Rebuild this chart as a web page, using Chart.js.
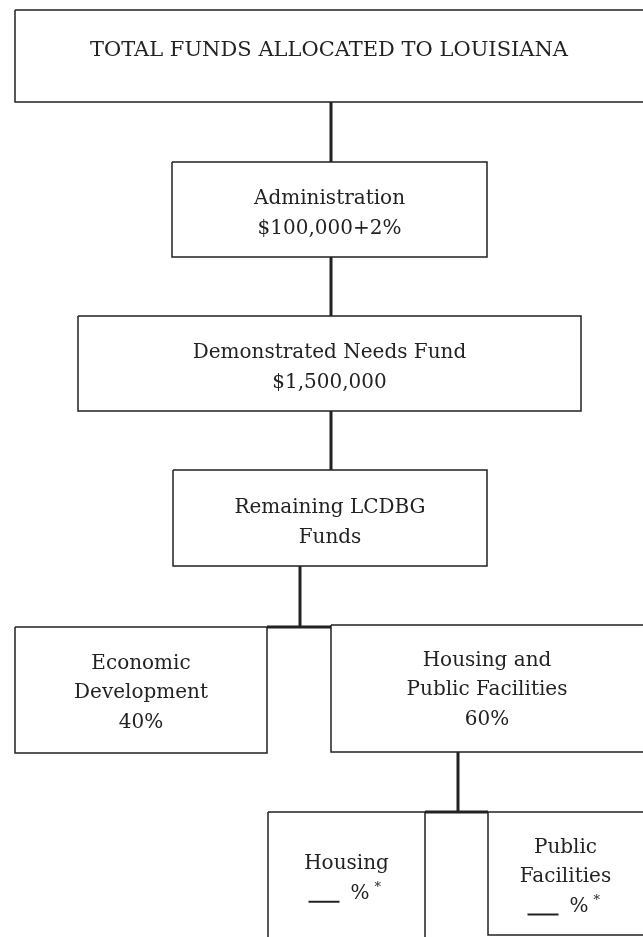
<!DOCTYPE html>
<html>
<head>
<meta charset="utf-8">
<script src="https://cdn.jsdelivr.net/npm/chart.js@4.4.1/dist/chart.umd.min.js"></script>
<style>
  html, body { margin: 0; padding: 0; background: #fff; }
</style>
</head>
<body>
<canvas id="flowChart" width="643" height="937"></canvas>
<script>
// shares of the remaining funds
const shareLabels = ["Economic Development", "Housing and Public Facilities"];
const shareValues = [40, 60];

const boxLabels = [
  ["TOTAL FUNDS ALLOCATED TO LOUISIANA"],
  ["Administration", "$100,000+2%"],
  ["Demonstrated Needs Fund", "$1,500,000"],
  ["Remaining LCDBG", "Funds"],
  ["Economic", "Development", shareValues[0] + "%"],
  ["Housing and", "Public Facilities", shareValues[1] + "%"],
  ["Housing", "___%*"],
  ["Public", "Facilities", "___%*"],
];

// layout of the boxes in page units: [left, right, top, bottom]
const boxFrames = [
  [15, 650, 10, 102],
  [172, 487, 162, 257],
  [78, 581, 316, 411],
  [173, 487, 470, 566],
  [15, 267, 627, 753],
  [331, 650, 625, 752],
  [268, 425, 812, 950],
  [488, 650, 812, 935],
];
const boxTextY = [51, 214, 368, 523, 693, 690, 879, 877];

// connecting lines, page units
const connectors = [
  [[331, 102], [331, 162]],
  [[331, 257], [331, 316]],
  [[331, 411], [331, 470]],
  [[300, 566], [300, 627]],
  [[267, 627], [331, 627]],
  [[458, 752], [458, 812]],
  [[425, 812], [488, 812]],
];

const ink = "#222";
const fontFamily = "'DejaVu Serif', serif";

const datasets = [];
boxFrames.forEach((f) => {
  datasets.push({
    data: [
      { x: f[0], y: f[2] },
      { x: f[1], y: f[2] },
      { x: f[1], y: f[3] },
      { x: f[0], y: f[3] },
      { x: f[0], y: f[2] },
    ],
    borderColor: ink,
    borderWidth: 1.5,
    borderJoinStyle: "miter",
  });
});
connectors.forEach((c) => {
  datasets.push({
    data: c.map((p) => ({ x: p[0], y: p[1] })),
    borderColor: ink,
    borderWidth: 3,
  });
});

// draws the box texts at the box centres
const boxText = {
  id: "boxText",
  afterDatasetsDraw(chart) {
    const { ctx, scales } = chart;
    const xs = scales.x, ys = scales.y;
    ctx.save();
    ctx.fillStyle = ink;
    ctx.textBaseline = "middle";
    boxLabels.forEach((lines, i) => {
      const f = boxFrames[i];
      const left = xs.getPixelForValue(Math.max(f[0], xs.min));
      const right = xs.getPixelForValue(Math.min(f[1], xs.max));
      const cx = (left + right) / 2;
      const step = 29.5;
      const y0 = ys.getPixelForValue(boxTextY[i]) - (step * (lines.length - 1)) / 2;
      lines.forEach((txt, j) => {
        const y = y0 + j * step;
        if (txt === "___%*") {
          // blank to fill in, then % and a footnote star
          ctx.strokeStyle = ink;
          ctx.lineWidth = 2;
          ctx.beginPath();
          ctx.moveTo(cx - 38, y + 8);
          ctx.lineTo(cx - 7, y + 8);
          ctx.stroke();
          ctx.font = "20px " + fontFamily;
          ctx.textAlign = "left";
          ctx.fillText("%", cx + 4, y);
          ctx.font = "13px " + fontFamily;
          ctx.fillText("*", cx + 28, y - 6);
          return;
        }
        ctx.font = (i === 0 ? "21px " : "20px ") + fontFamily;
        ctx.textAlign = "center";
        ctx.fillText(txt, cx, y);
      });
    });
    ctx.restore();
  },
};

new Chart(document.getElementById("flowChart").getContext("2d"), {
  type: "scatter",
  data: { datasets: datasets },
  options: {
    responsive: false,
    animation: false,
    showLine: true,
    elements: { point: { radius: 0, hoverRadius: 0 }, line: { tension: 0 } },
    layout: { padding: 0 },
    scales: {
      x: { type: "linear", min: 0, max: 643, display: false },
      y: { type: "linear", min: 0, max: 937, reverse: true, display: false },
    },
    plugins: { legend: { display: false }, tooltip: { enabled: false } },
  },
  plugins: [boxText],
});
</script>
</body>
</html>
